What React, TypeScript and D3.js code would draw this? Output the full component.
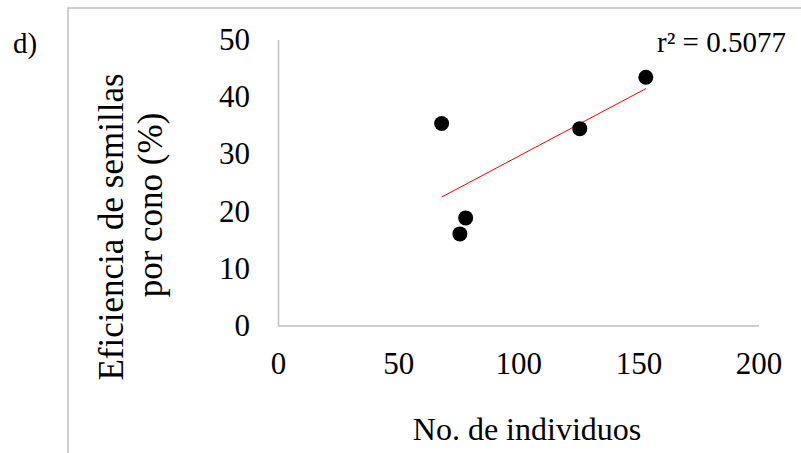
import { useEffect, useRef } from "react";
import * as d3 from "d3";

// individuals per site vs seed efficiency per cone (%)
const individuos = [67.9, 77.9, 75.5, 125.4, 152.9];
const eficiencia = [35.4, 18.9, 16.1, 34.5, 43.5];
const xTicks = [0, 50, 100, 150, 200];
const yTicks = [0, 10, 20, 30, 40, 50];
const r2Label = "r² = 0.5077";

const App = () => {
  const svgRef = useRef<SVGSVGElement>(null);

  useEffect(() => {
    const width = 801;
    const height = 453;
    const font = "'Liberation Serif', 'Times New Roman', serif";

    const svg = d3.select(svgRef.current).attr("width", width).attr("height", height);
    svg.selectAll("*").remove();

    //////////////////////////frame///////////////////////////////
    svg
      .append("rect")
      .attr("x", 68)
      .attr("y", 8)
      .attr("width", 800)
      .attr("height", 500)
      .attr("fill", "white")
      .attr("stroke", "#bfbfbf")
      .attr("stroke-width", 1.5);

    const x = d3.scaleLinear().domain([0, 200]).range([278.5, 759]);
    const y = d3.scaleLinear().domain([0, 50]).range([326, 40]);

    // axis lines
    svg
      .append("path")
      .attr("d", `M${x(0)},${y(50)}V${y(0)}H${x(200)}`)
      .attr("fill", "none")
      .attr("stroke", "#bfbfbf")
      .attr("stroke-width", 1.5);

    svg
      .append("g")
      .selectAll("text")
      .data(yTicks)
      .enter()
      .append("text")
      .attr("x", 250)
      .attr("y", (d) => y(d) + 10)
      .attr("text-anchor", "end")
      .style("font-family", font)
      .style("font-size", "31px")
      .text((d) => d);

    svg
      .append("g")
      .selectAll("text")
      .data(xTicks)
      .enter()
      .append("text")
      .attr("x", (d) => x(d))
      .attr("y", 374)
      .attr("text-anchor", "middle")
      .style("font-family", font)
      .style("font-size", "31px")
      .text((d) => d);

    //////////////////////////trend line///////////////////////////////
    const mx = d3.mean(individuos) as number;
    const my = d3.mean(eficiencia) as number;
    let sxy = 0;
    let sxx = 0;
    individuos.forEach((v, i) => {
      sxy += (v - mx) * (eficiencia[i] - my);
      sxx += (v - mx) * (v - mx);
    });
    const slope = sxy / sxx;
    const intercept = my - slope * mx;
    const x0 = d3.min(individuos) as number;
    const x1 = d3.max(individuos) as number;

    svg
      .append("line")
      .attr("x1", x(x0))
      .attr("y1", y(intercept + slope * x0))
      .attr("x2", x(x1))
      .attr("y2", y(intercept + slope * x1))
      .attr("stroke", "#ff0000")
      .attr("stroke-width", 1);

    const data = individuos.map((v, i) => ({ x: v, y: eficiencia[i] }));
    svg
      .selectAll(".dot")
      .data(data)
      .enter()
      .append("circle")
      .attr("class", "dot")
      .attr("cx", (d) => x(d.x))
      .attr("cy", (d) => y(d.y))
      .attr("r", 7.5)
      .attr("fill", "black");

    //////////////////////////labels///////////////////////////////
    svg
      .append("text")
      .attr("x", 657)
      .attr("y", 52)
      .style("font-family", font)
      .style("font-size", "29px")
      .text(r2Label);

    svg
      .append("text")
      .attr("x", 13)
      .attr("y", 53)
      .style("font-family", font)
      .style("font-size", "29px")
      .text("d)");

    svg
      .append("text")
      .attr("x", 527)
      .attr("y", 440)
      .attr("text-anchor", "middle")
      .style("font-family", font)
      .style("font-size", "32px")
      .text("No. de individuos");

    svg
      .append("text")
      .attr("transform", "translate(123,227) rotate(-90)")
      .attr("text-anchor", "middle")
      .style("font-family", font)
      .style("font-size", "35px")
      .text("Eficiencia de semillas");

    svg
      .append("text")
      .attr("transform", "translate(162,205) rotate(-90)")
      .attr("text-anchor", "middle")
      .style("font-family", font)
      .style("font-size", "35px")
      .text("por cono (%)");
  }, []);

  return (
    <div style={{ position: "absolute", left: 0, top: 0 }}>
      <svg ref={svgRef} style={{ display: "block" }}></svg>
    </div>
  );
};

export default App;
